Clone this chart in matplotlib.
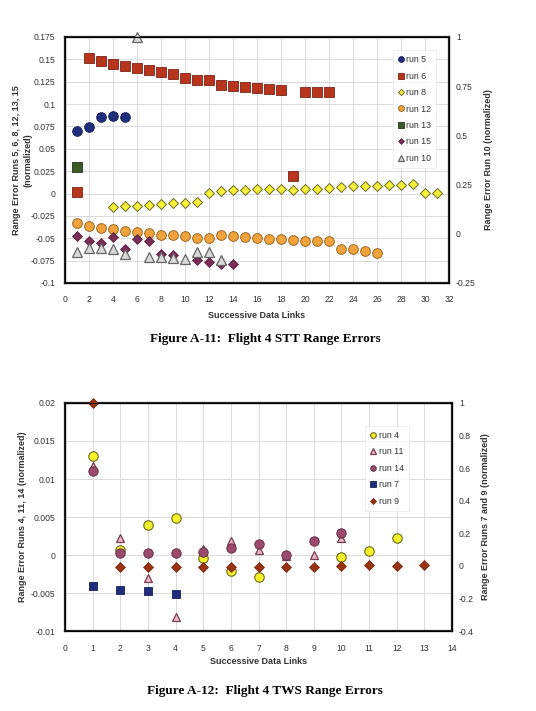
import matplotlib
matplotlib.use('Agg')
import matplotlib.pyplot as plt
from matplotlib.ticker import FormatStrFormatter, MultipleLocator

plt.rcParams['font.family'] = ['Liberation Sans', 'DejaVu Sans']

# ---- Figure A-11 data (left axis: runs 5, 6, 8, 12, 13, 15; right axis: run 10)
run5_x = [1, 2, 3, 4, 5]
run5_y = [0.0704, 0.0741, 0.0853, 0.0872, 0.086]

run6_x = [1, 2, 3, 4, 5, 6, 7, 8, 9, 10, 11, 12, 13, 14, 15, 16, 17, 18, 19, 20, 21, 22]
run6_y = [0.0012, 0.151, 0.1477, 0.145, 0.1425, 0.1402, 0.1376, 0.1358, 0.1335, 0.1294,
          0.1272, 0.1264, 0.1208, 0.1204, 0.119, 0.1175, 0.117, 0.1156, 0.020, 0.114,
          0.114, 0.113]

run8_x = list(range(4, 32))
run8_y = [-0.0148, -0.014, -0.0137, -0.013, -0.012, -0.0111, -0.0107, -0.010, 0.0009, 0.0027,
          0.0038, 0.0038, 0.0046, 0.005, 0.0055, 0.0038, 0.005, 0.005, 0.0057, 0.0072,
          0.0087, 0.0087, 0.0087, 0.0098, 0.0098, 0.0109, 0.0005, 0.0005]

run12_x = list(range(1, 27))
run12_y = [-0.0324, -0.0365, -0.0384, -0.0399, -0.0417, -0.0429, -0.0436, -0.0459, -0.0466, -0.0474,
           -0.0492, -0.05, -0.0466, -0.0474, -0.0485, -0.05, -0.051, -0.0504, -0.0518, -0.0526,
           -0.053, -0.053, -0.0615, -0.0623, -0.0645, -0.066]

run13_x = [1]
run13_y = [0.030]

run15_x = [1, 2, 3, 4, 5, 6, 7, 8, 9, 11, 12, 13, 14]
run15_y = [-0.0474, -0.0534, -0.0556, -0.0485, -0.0615, -0.0503, -0.0526, -0.0672, -0.069,
           -0.0747, -0.0766, -0.0785, -0.0788]

run10_x = [1, 2, 3, 4, 5, 6, 7, 8, 9, 10, 11, 12, 13]
run10_y = [-0.093, -0.073, -0.073, -0.0755, -0.105, 1.0, -0.118, -0.118, -0.121, -0.127,
           -0.091, -0.093, -0.135]

# ---- Figure A-12 data (left axis: runs 4, 11, 14; right axis: runs 7, 9)
run4_x = [1, 2, 3, 4, 5, 6, 7, 10, 11, 12]
run4_y = [0.01305, 0.0007, 0.004, 0.0049, -0.00045, -0.0021, -0.00295, -0.0003, 0.00056, 0.0022]

run11_x = [1, 2, 3, 4, 5, 6, 7, 8, 9, 10]
run11_y = [0.0117, 0.0023, -0.003, -0.0081, 0.0008, 0.0019, 0.00065, -0.0001, 0.0, 0.0023]

run14_x = [1, 2, 3, 4, 5, 6, 7, 8, 9, 10]
run14_y = [0.011, 0.0003, 0.0003, 0.0003, 0.00035, 0.0009, 0.0015, 0.0, 0.0019, 0.0029]

run7_x = [1, 2, 3, 4]
run7_y = [-0.125, -0.149, -0.157, -0.171]

run9_x = list(range(1, 14))
run9_y = [1.0, -0.01, -0.01, -0.01, -0.01, -0.01, -0.005, -0.01, -0.01, 0.0, 0.008, 0.0, 0.008]

fig = plt.figure(figsize=(5.36, 7.11), dpi=100)
tick_fs = 6.2
lab_fs = 6.5
txt_col = '#333333'


def style_axes(ax, twin):
    for sp in ax.spines.values():
        sp.set_linewidth(1.6)
        sp.set_color('#222222')
    ax.tick_params(labelsize=tick_fs, length=0, pad=7, colors=txt_col)
    ax.tick_params(axis='x', pad=9)
    twin.tick_params(labelsize=tick_fs, length=0, pad=5, colors=txt_col)
    ax.grid(True, color='#dadada', linewidth=0.7)
    ax.set_axisbelow(True)
    ax.yaxis.set_major_formatter(FormatStrFormatter('%g'))
    twin.yaxis.set_major_formatter(FormatStrFormatter('%g'))
    ax.xaxis.set_major_formatter(FormatStrFormatter('%g'))


def style_legend(leg):
    leg.get_frame().set_edgecolor('#e6e6e6')
    leg.get_frame().set_linewidth(0.6)
    for t in leg.get_texts():
        t.set_color(txt_col)


# ---------------- Figure A-11 ----------------
ax1 = fig.add_axes([0.1213, 0.602, 0.7164, 0.346])
ax1b = ax1.twinx()
style_axes(ax1, ax1b)
ax1.set_xlim(0, 32)
ax1.set_ylim(-0.1, 0.175)
ax1b.set_ylim(-0.25, 1.0)
ax1.xaxis.set_major_locator(MultipleLocator(2))
ax1.yaxis.set_major_locator(MultipleLocator(0.025))
ax1b.yaxis.set_major_locator(MultipleLocator(0.25))

ms = 7.0
h = []
h += ax1.plot(run5_x, run5_y, 'o', ls='none', ms=ms, color='#1f2d7b', mec='#15205a', mew=0.6, label='run 5')
h += ax1.plot(run6_x, run6_y, 's', ls='none', ms=ms, color='#b8341c', mec='#7a2415', mew=0.6, label='run 6')
h += ax1.plot(run8_x, run8_y, 'D', ls='none', ms=5.2, color='#f6f03a', mec='#6b6a20', mew=0.7, label='run 8')
h += ax1.plot(run12_x, run12_y, 'o', ls='none', ms=ms, color='#f2a23a', mec='#9c6a2a', mew=0.7, label='run 12')
h += ax1.plot(run13_x, run13_y, 's', ls='none', ms=ms, color='#3b5a26', mec='#24361a', mew=0.6, label='run 13')
h += ax1.plot(run15_x, run15_y, 'D', ls='none', ms=5.0, color='#7a2d56', mec='#4d1a36', mew=0.5, label='run 15')
h += ax1b.plot(run10_x, run10_y, '^', ls='none', ms=6.6, color='#d9d9d9', mec='#666666', mew=0.9,
               label='run 10', clip_on=False)

ax1.set_xlabel('Successive Data Links', fontsize=lab_fs, fontweight='bold', color=txt_col, labelpad=5)
ax1.set_ylabel('Range Error Runs 5, 6, 8, 12, 13, 15\n(normalized)', fontsize=lab_fs,
               fontweight='bold', color=txt_col, linespacing=1.35)
ax1.yaxis.set_label_coords(-0.084, 0.5)
ax1b.set_ylabel('Range Error Run 10 (normalized)', fontsize=lab_fs, fontweight='bold',
                color=txt_col, labelpad=6)
leg1 = ax1b.legend(handles=h, loc='upper left', bbox_to_anchor=(0.842, 0.965), fontsize=6.3,
                   markerscale=0.6, handlelength=0.6, handletextpad=0.3, labelspacing=0.85,
                   frameon=True, fancybox=False, borderpad=0.6)
style_legend(leg1)

fig.text(0.4945, 0.5228, 'Figure A-11:  Flight 4 STT Range Errors', ha='center', va='center',
         fontsize=9.5, fontweight='bold', family='Liberation Serif')

# ---------------- Figure A-12 ----------------
ax2 = fig.add_axes([0.1213, 0.1125, 0.722, 0.3207])
ax2b = ax2.twinx()
style_axes(ax2, ax2b)
ax2.set_xlim(0, 14)
ax2.set_ylim(-0.01, 0.02)
ax2b.set_ylim(-0.4, 1.0)
ax2.xaxis.set_major_locator(MultipleLocator(1))
ax2.yaxis.set_major_locator(MultipleLocator(0.005))
ax2b.yaxis.set_major_locator(MultipleLocator(0.2))

h2 = []
h2 += ax2.plot(run4_x, run4_y, 'o', ls='none', ms=6.8, color='#f7f228', mec='#6b6a20', mew=0.8, label='run 4')
h2 += ax2.plot(run11_x, run11_y, '^', ls='none', ms=6.4, color='#e6b8c6', mec='#7a3c52', mew=0.9, label='run 11')
h2 += ax2.plot(run14_x, run14_y, 'o', ls='none', ms=6.8, color='#9b4a6c', mec='#5a2a3e', mew=0.6, label='run 14')
h2 += ax2b.plot(run7_x, run7_y, 's', ls='none', ms=6.4, color='#1f2d7b', mec='#15205a', mew=0.6, label='run 7')
h2 += ax2b.plot(run9_x, run9_y, 'D', ls='none', ms=5.2, color='#9a3312', mec='#6a220c', mew=0.5,
                label='run 9', clip_on=False)

ax2.set_xlabel('Successive Data Links', fontsize=lab_fs, fontweight='bold', color=txt_col, labelpad=3)
ax2.set_ylabel('Range Error Runs 4, 11, 14 (normalized)', fontsize=lab_fs, fontweight='bold',
               color=txt_col)
ax2.yaxis.set_label_coords(-0.098, 0.5)
ax2b.set_ylabel('Range Error Runs 7 and 9 (normalized)', fontsize=lab_fs, fontweight='bold',
                color=txt_col, labelpad=5)
leg2 = ax2b.legend(handles=h2, loc='upper left', bbox_to_anchor=(0.765, 0.92), fontsize=6.3,
                   markerscale=0.6, handlelength=0.6, handletextpad=0.3, labelspacing=0.85,
                   frameon=True, fancybox=False, borderpad=0.6)
style_legend(leg2)

fig.text(0.4945, 0.0285, 'Figure A-12:  Flight 4 TWS Range Errors', ha='center', va='center',
         fontsize=9.5, fontweight='bold', family='Liberation Serif')

fig.savefig('out.png', dpi=100)
